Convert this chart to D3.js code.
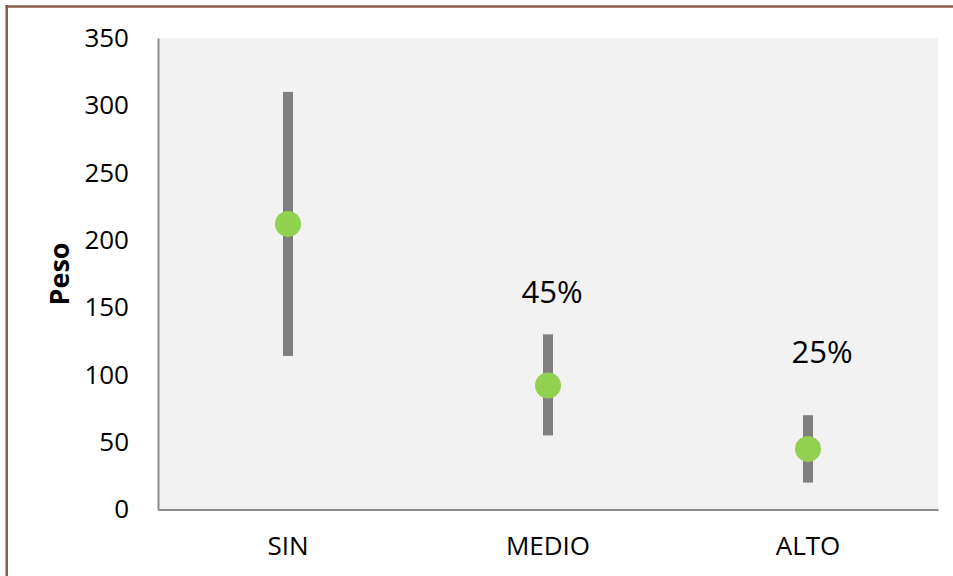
<!DOCTYPE html>
<html>
<head>
<meta charset="utf-8">
<script src="https://cdn.jsdelivr.net/npm/d3@7"></script>
<style>
  html, body { margin: 0; padding: 0; background: #ffffff; }
  svg { display: block; font-family: "Open Sans", sans-serif; }
</style>
</head>
<body>
<svg id="chart" width="953" height="576"></svg>
<script>
// ---- data ----
const categories = ["SIN", "MEDIO", "ALTO"];
const meanValues = [212, 92, 45];
const upperValues = [310, 130, 70];
const lowerValues = [114, 55, 20];
const pctLabels = ["", "45%", "25%"];
const pctLabelValues = [null, 153, 109];
const yTicks = [0, 50, 100, 150, 200, 250, 300, 350];
const yTitle = "Peso";

// ---- layout ----
const svg = d3.select("#chart");
const plot = { left: 158, right: 938, top: 38, bottom: 509.5 };

// frame (left and top edges visible)
svg.append("line").attr("x1", 6.75).attr("x2", 6.75).attr("y1", 5).attr("y2", 576)
  .attr("stroke", "#8c5a45").attr("stroke-width", 2.5);
svg.append("line").attr("x1", 5.5).attr("x2", 953).attr("y1", 6.5).attr("y2", 6.5)
  .attr("stroke", "#8c5a45").attr("stroke-width", 2.5);

const x = d3.scaleBand().domain(categories).range([plot.left, plot.right]).padding(0);
const y = d3.scaleLinear().domain([0, 350]).range([plot.bottom, plot.top]);

// plot background
svg.append("rect")
  .attr("x", plot.left).attr("y", plot.top)
  .attr("width", plot.right - plot.left).attr("height", plot.bottom - plot.top)
  .attr("fill", "#f2f2f2");

// y axis
const yAxis = svg.append("g")
  .attr("transform", `translate(${plot.left},0)`)
  .call(d3.axisLeft(y).tickValues(yTicks).tickSize(0).tickPadding(29));
yAxis.select(".domain").attr("stroke", "#8c8c8c").attr("stroke-width", 2);
yAxis.selectAll("text").attr("font-size", 26).attr("fill", "#000")
  .attr("font-family", "'Open Sans', sans-serif");

// x axis
const xAxis = svg.append("g")
  .attr("transform", `translate(0,${plot.bottom})`)
  .call(d3.axisBottom(x).tickSize(0).tickPadding(27));
xAxis.select(".domain").attr("stroke", "#8c8c8c").attr("stroke-width", 2);
xAxis.selectAll("text").attr("font-size", 26).attr("fill", "#000")
  .attr("font-family", "'Open Sans', sans-serif");

// y title
svg.append("text")
  .attr("transform", `translate(69,${274}) rotate(-90)`)
  .attr("text-anchor", "middle")
  .attr("font-size", 27).attr("font-weight", "bold").attr("fill", "#000")
  .text(yTitle);

const data = categories.map((c, i) => ({
  cat: c, mean: meanValues[i], hi: upperValues[i], lo: lowerValues[i],
  label: pctLabels[i], labelV: pctLabelValues[i]
}));

// range bars
svg.append("g").selectAll("rect").data(data).join("rect")
  .attr("x", d => x(d.cat) + x.bandwidth() / 2 - 5)
  .attr("width", 10)
  .attr("y", d => y(d.hi))
  .attr("height", d => y(d.lo) - y(d.hi))
  .attr("fill", "#808080");

// mean points
svg.append("g").selectAll("circle").data(data).join("circle")
  .attr("cx", d => x(d.cat) + x.bandwidth() / 2)
  .attr("cy", d => y(d.mean))
  .attr("r", 13)
  .attr("fill", "#92d050");

// percentage labels
const labelDx = [0, 4, 14];
svg.append("g").selectAll("text").data(data.filter(d => d.label)).join("text")
  .attr("x", d => x(d.cat) + x.bandwidth() / 2 + labelDx[categories.indexOf(d.cat)])
  .attr("y", d => y(d.labelV))
  .attr("text-anchor", "middle")
  .attr("font-size", 31).attr("fill", "#000")
  .text(d => d.label);
</script>
</body>
</html>
